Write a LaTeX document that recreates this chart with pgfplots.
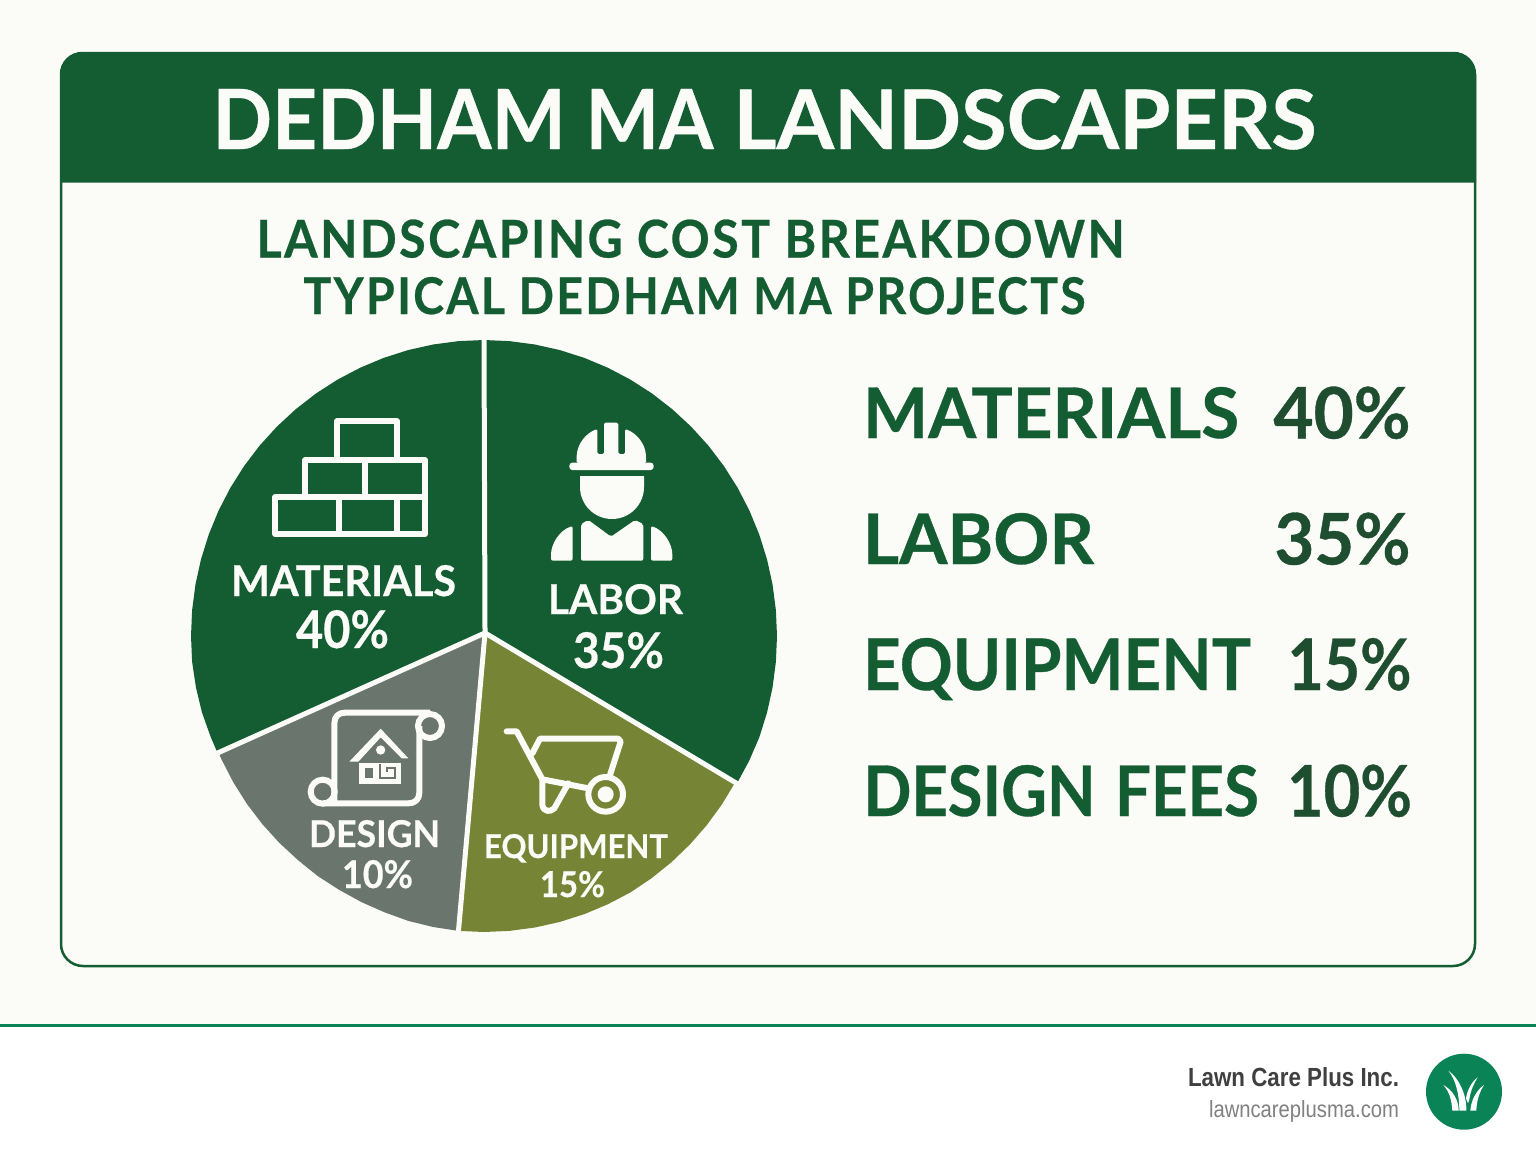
\documentclass[border=0pt]{standalone}
\usepackage{fontspec}
\usepackage{graphicx}
\usepackage{pgfplots}
\pgfplotsset{compat=1.18}
\usepgfplotslibrary{polar}
\setmainfont{Lato}
\newfontfamily\footfont{Liberation Sans}
\definecolor{bg}{HTML}{FBFBF7}
\definecolor{dgreen}{HTML}{145C32}
\definecolor{olive}{HTML}{768535}
\definecolor{slate}{HTML}{69756D}
\definecolor{dark}{HTML}{1F4D30}
\definecolor{logo}{HTML}{0A8457}
\newcommand{\T}[6]{\node[inner sep=0pt,text=#5] at (#1,#2) {\resizebox{#3pt}{#4pt}{\raisebox{0pt}[\height][0pt]{\fontsize{40}{40}\selectfont\bfseries\addfontfeatures{FakeBold=0.5}#6}}};}
\begin{document}
\begin{tikzpicture}
\begin{scope}[x=1pt,y=-1pt]
\path[use as bounding box,fill=white] (0,0) rectangle (1536,1154);
\fill[bg] (0,0) rectangle (1536,1025);
\draw[logo,line width=3pt] (0,1025.5) -- (1536,1025.5);
\draw[dgreen,line width=2.5pt,rounded corners=22pt] (61,53) rectangle (1475,966);
\fill[dgreen] (60,182.5) [rounded corners=22pt]-- (60,52) -- (1476,52) [sharp corners]-- (1476,182.5) -- cycle;
\end{scope}
\begin{axis}[at={(484pt,-636pt)},anchor=center,scale only axis,width=586pt,height=592pt,
  xmin=-293,xmax=293,ymin=-293,ymax=293,hide axis,clip=false]
% Materials
\addplot[fill=dgreen,draw=none,data cs=polar] coordinates {(71.6,3.2)(90,293)(95,293)(100,293)(105,293)(110,293)(115,293)(120,293)(125,293)(130,293)(135,293)(140,293)(145,293)(150,293)(155,293)(160,293)(165,293)(170,293)(175,293)(180,293)(185,293)(190,292.5)(195,292)(200,291)(203.5,290.5)} --cycle;
% Labor
\addplot[fill=dgreen,draw=none,data cs=polar] coordinates {(71.6,3.2)(90,293)(85,293)(80,293)(75,293)(70,293)(65,293)(60,293)(55,293)(50,293)(45,293)(40,293)(35,293)(30,293)(25,293)(20,293)(15,293)(10,293)(5,293)(0,293)(-5,293)(-10,293)(-15,293)(-20,293)(-25,292.5)(-30,292)} --cycle;
% Equipment
\addplot[fill=olive,draw=none,data cs=polar] coordinates {(71.6,3.2)(-30,290)(-35,290.5)(-40,291)(-45,291.5)(-50,292)(-55,292.5)(-60,293)(-65,293)(-70,293)(-75,293)(-80,293)(-85,293)(-90,293)(-95,293)} --cycle;
% Design
\addplot[fill=slate,draw=none,data cs=polar] coordinates {(71.6,3.2)(265,293)(260,292.5)(255,292)(250,291)(245,290.5)(240,290)(235,290)(230,289.5)(225,289.5)(220,289.5)(215,289.5)(210,289.5)(205,289.5)(203.5,289.5)} --cycle;
% dividers
\addplot[bg,line width=5pt,data cs=polar] coordinates {(71.6,3.2)(90,296)};
\addplot[bg,line width=5pt,data cs=polar] coordinates {(71.6,3.2)(-30,296)};
\addplot[bg,line width=5pt,data cs=polar] coordinates {(71.6,3.2)(265,296)};
\addplot[bg,line width=5pt,data cs=polar] coordinates {(71.6,3.2)(203.5,296)};
\end{axis}
\begin{scope}[x=1pt,y=-1pt]
% titles
\T{389}{119}{353}{60}{bg}{DEDHAM}
\T{649.5}{119}{128}{60}{bg}{MA}
\T{1025}{119}{583}{60}{bg}{LANDSCAPERS}
\T{690.5}{238.5}{868}{38}{dgreen}{\addfontfeatures{LetterSpace=5}LANDSCAPING COST BREAKDOWN}
\T{694.5}{295.5}{782}{37}{dgreen}{\addfontfeatures{LetterSpace=5}TYPICAL DEDHAM MA PROJECTS}
% list
\T{1051}{412.5}{376}{51}{dgreen}{MATERIALS}
\T{1342}{412.5}{137}{52}{dark}{40\%}
\T{978.5}{538.5}{231}{51}{dgreen}{LABOR}
\T{1342.5}{538.5}{136}{52}{dark}{35\%}
\T{1057}{664}{388}{52}{dgreen}{EQUIPMENT}
\T{1349.5}{664}{124}{52}{dark}{15\%}
\T{979.5}{790.5}{232}{51}{dgreen}{DESIGN}
\T{1187}{790.5}{144}{51}{dgreen}{FEES}
\T{1349.5}{790.5}{125}{52}{dark}{10\%}
% pie labels
\T{343.5}{580.5}{225}{31}{bg}{MATERIALS}
\T{342.5}{629}{93}{38}{bg}{40\%}
\T{615.5}{599}{135}{30}{bg}{LABOR}
\T{618.5}{650}{91}{36}{bg}{35\%}
\T{374.5}{833.5}{131}{27}{bg}{DESIGN}
\T{377.5}{874}{71}{28}{bg}{10\%}
\T{576}{846}{184}{24}{bg}{EQUIPMENT}
\T{572.5}{884}{65}{26}{bg}{15\%}
% bricks
\begin{scope}[bg,line width=6pt,line join=round]
\draw (337.3,460) -- (337.3,421.3) -- (397,421.3) -- (397,460);
\draw (305.3,497.3) -- (305.3,460) -- (425,460) -- (425,534) -- (275.3,534) -- (275.3,497.3) -- (425,497.3);
\draw (365.3,460) -- (365.3,497.3);
\draw (338.7,497.3) -- (338.7,534);
\draw (397,497.3) -- (397,534);
\end{scope}
% worker
\begin{scope}[shift={(480,330)},scale=1/3]
\fill[bg,rounded corners=1.5pt] (290,400) -- (290,380) .. controls (292,340) and (320,308) .. (352,297) -- (352,372) -- (372,372) -- (372,278) -- (415,278) -- (415,372) -- (435,372) -- (435,297) .. controls (468,308) and (496,340) .. (498,380) -- (498,400) -- cycle;
\fill[bg,rounded corners=3pt] (268,398) rectangle (521,420);
\fill[bg] (300,438) -- (492,438) -- (492,471) arc[start angle=0,end angle=180,radius=96] -- cycle;
\fill[bg,rounded corners=2pt] (303,692) -- (303,582) -- (325,570) -- (393,620) -- (465,570) -- (490,582) -- (490,692) -- cycle;
\fill[bg,rounded corners=2pt] (278,692) -- (278,588) .. controls (240,600) and (213,640) .. (213,680) -- (213,692) -- cycle;
\fill[bg,rounded corners=2pt] (513,692) -- (513,588) .. controls (550,600) and (577,640) .. (577,680) -- (577,692) -- cycle;
\end{scope}
% design scroll
\begin{scope}[shift={(210,640)},scale=1/3]
\draw[bg,line width=6pt] (660,258) circle[radius=36];
\draw[bg,line width=6pt] (338,455) circle[radius=36];
\draw[bg,line width=6pt,line join=round] (660,218) -- (405,218) .. controls (385,218) and (373,230) .. (373,250) -- (373,490);
\draw[bg,line width=6pt,line join=round] (338,490) -- (595,490) .. controls (615,490) and (628,478) .. (628,458) -- (628,258);
\fill[bg] (418,365) -- (512,266) -- (595,355) -- (575,355) -- (512,292) -- (445,365) -- cycle;
\fill[bg] (512,330) circle[radius=14];
\fill[bg] (448,368) rectangle (573,432);
\fill[slate] (465,384) rectangle (490,414);
\draw[slate,line width=2pt] (510,372) -- (510,414) -- (555,414) -- (555,384) -- (532,384) -- (532,396);
\end{scope}
% wheelbarrow
\begin{scope}[shift={(455,640)},scale=1/3]
\begin{scope}[bg,line width=6pt,line join=round,line cap=round]
\draw (155,274) -- (185,274) -- (262,418) -- (400,445);
\draw (232,340) -- (255,296) -- (490,296) -- (497,305) -- (465,405);
\draw (262,418) -- (262,495) .. controls (265,515) and (285,518) .. (298,505) -- (340,430);
\draw (452,463) circle[radius=52];
\end{scope}
\fill[bg] (452,463) circle[radius=24];
\end{scope}
% footer
\node[inner sep=0pt,text=black!75] at (1293.5,1077.5) {\resizebox{211pt}{19pt}{\footfont\bfseries Lawn Care Plus Inc.}};
\node[inner sep=0pt,text=black!50] at (1304,1111.5) {\resizebox{190pt}{17pt}{\footfont lawncareplusma.com}};
\fill[logo] (1464,1091.7) circle[radius=38];
\begin{scope}[shift={(1160,1040)},scale=1/3]
\fill[white] (877,212) .. controls (875,180) and (868,155) .. (850,135) .. controls (878,150) and (896,180) .. (896,212) -- cycle;
\fill[white] (898,212) .. controls (898,165) and (888,120) .. (865,92) .. controls (898,115) and (920,165) .. (919,212) -- cycle;
\fill[white] (918,175) .. controls (922,150) and (935,125) .. (953,112) .. controls (942,130) and (932,150) .. (928,178) -- (924,190) -- cycle;
\fill[white] (931,212) .. controls (933,180) and (950,150) .. (972,135) .. controls (956,160) and (950,185) .. (949,212) -- cycle;
\end{scope}
\end{scope}
\end{tikzpicture}
\end{document}
